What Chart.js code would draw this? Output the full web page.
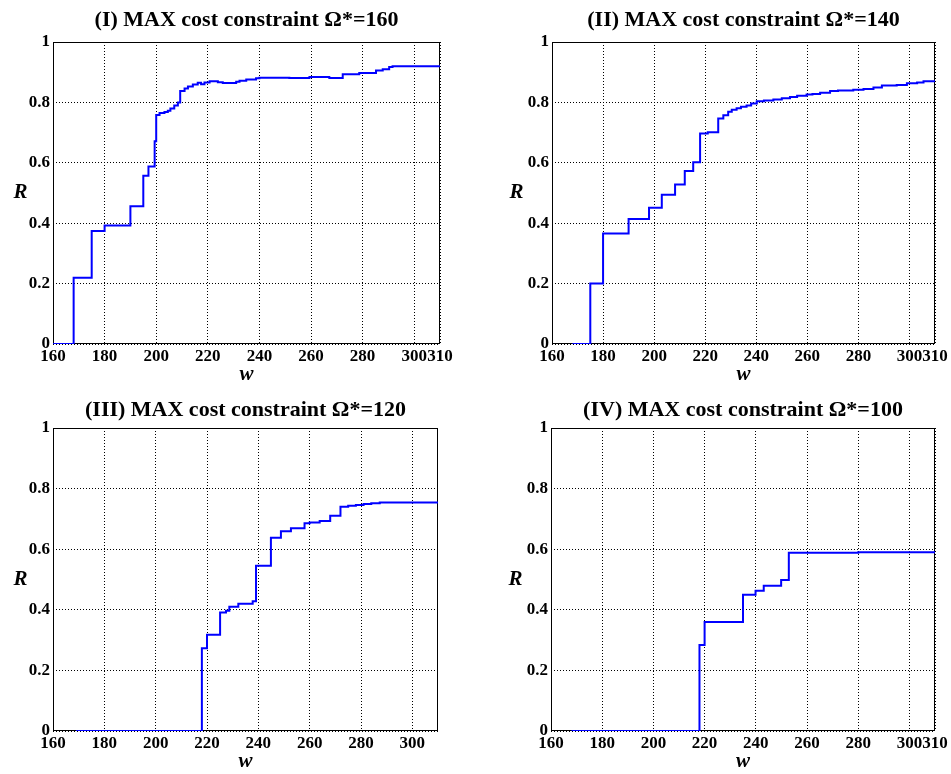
<!DOCTYPE html>
<html><head><meta charset="utf-8">
<script src="https://cdn.jsdelivr.net/npm/chart.js@4"></script>
<style>
html,body{margin:0;padding:0;background:#fff;}
body{width:951px;height:774px;position:relative;overflow:hidden;}
canvas{position:absolute;}
</style></head><body>
<canvas id="c1" width="476" height="390" style="left:0;top:0"></canvas>
<canvas id="c2" width="475" height="390" style="left:476px;top:0"></canvas>
<canvas id="c3" width="476" height="387" style="left:0;top:387px"></canvas>
<canvas id="c4" width="475" height="387" style="left:476px;top:387px"></canvas>
<script>
// ---- data ----
const titles = [
  "(I) MAX cost constraint \u03A9*=160",
  "(II) MAX cost constraint \u03A9*=140",
  "(III) MAX cost constraint \u03A9*=120",
  "(IV) MAX cost constraint \u03A9*=100"
];
const xLabel = "w";
const yLabel = "R";

const wI = [160, 168, 175, 180, 190, 195, 197, 199.4, 200, 201.3, 203.2, 204.5, 205.5, 207, 208.4, 209.3, 211, 212.3, 214.2, 216.1, 217.4, 218.7, 220.7, 223.9, 225.8, 231, 232.3, 234.9, 238.7, 240, 251.6, 259.4, 267.1, 272.3, 278.7, 285.2, 287.8, 290.3, 291.6, 310];
const rI = [0, 0.219, 0.374, 0.392, 0.456, 0.557, 0.588, 0.671, 0.758, 0.765, 0.768, 0.772, 0.78, 0.79, 0.80, 0.838, 0.846, 0.853, 0.859, 0.865, 0.86, 0.866, 0.87, 0.867, 0.864, 0.868, 0.872, 0.876, 0.88, 0.882, 0.881, 0.884, 0.881, 0.893, 0.8975, 0.906, 0.91, 0.917, 0.92, 0.92];

const wII = [168, 175, 180, 190, 198, 203, 208.2, 212, 215.3, 218, 221, 225.1, 227.1, 229, 230.4, 232.3, 234, 236.2, 238, 240.2, 243, 246.7, 250, 253.2, 256, 259.7, 262, 265, 268.9, 272, 278, 282, 285.9, 289.2, 295, 299, 303, 305.5, 310];
const rII = [0, 0.2, 0.366, 0.414, 0.451, 0.494, 0.528, 0.573, 0.602, 0.697, 0.701, 0.747, 0.7575, 0.769, 0.776, 0.781, 0.786, 0.79, 0.796, 0.804, 0.806, 0.81, 0.814, 0.818, 0.822, 0.826, 0.828, 0.832, 0.838, 0.839, 0.842, 0.844, 0.849, 0.856, 0.858, 0.863, 0.866, 0.87, 0.869];

const wIII = [169, 218, 220, 225.1, 227.4, 228.7, 232.2, 237.8, 239.1, 244.9, 248.8, 252.7, 258, 260, 263.9, 268, 272, 275, 278, 281, 284, 287.3, 310];
const rIII = [0, 0.273, 0.318, 0.391, 0.397, 0.41, 0.42, 0.428, 0.545, 0.638, 0.659, 0.669, 0.686, 0.688, 0.693, 0.71, 0.74, 0.743, 0.746, 0.749, 0.752, 0.754, 0.754];

const wIV = [168, 218, 220, 235, 239.9, 243.1, 249.9, 252.9, 280, 310];
const rIV = [0, 0.2835, 0.36, 0.45, 0.4626, 0.479, 0.498, 0.588, 0.59, 0.59];

const xTicksFull = [160, 180, 200, 220, 240, 260, 280, 300, 310];
const xTicksIII = [160, 180, 200, 220, 240, 260, 280, 300];
const yTicks = [0, 0.2, 0.4, 0.6, 0.8, 1];

// ---- drawing ----
const FONT = "'Liberation Serif', 'Times New Roman', serif";

const decorPlugin = {
  id: 'decor',
  beforeDatasetsDraw(chart) {
    const a = chart.chartArea, ctx = chart.ctx;
    ctx.save();
    ctx.strokeStyle = '#000';
    ctx.lineWidth = 1;
    ctx.strokeRect(a.left + 0.5, a.top + 0.5, a.right - a.left - 1, a.bottom - a.top - 1);
    ctx.restore();
  },
  afterDraw(chart, args, opts) {
    const a = chart.chartArea, ctx = chart.ctx;
    ctx.save();
    ctx.fillStyle = '#000';
    ctx.font = 'bold ' + opts.titleSize + 'px ' + FONT;
    ctx.textAlign = 'center';
    ctx.textBaseline = 'alphabetic';
    ctx.fillText(opts.title, (a.left + a.right) / 2, a.top - opts.titleGap);
    ctx.font = 'italic bold 21px ' + FONT;
    ctx.textBaseline = 'middle';
    ctx.fillText(yLabel, a.left - opts.rOffset, (a.top + a.bottom) / 2);
    ctx.restore();
  }
};

function makeChart(id, title, w, r, xTicks, g) {
  const pts = w.map((x, i) => ({x: x, y: r[i]}));
  return new Chart(document.getElementById(id), {
    type: 'line',
    data: { datasets: [{ data: pts, borderColor: '#0000ff', borderWidth: 2, pointRadius: 0, stepped: 'before', fill: false }] },
    options: {
      responsive: false, animation: false, devicePixelRatio: 1,
      layout: { padding: { top: g.padTop, right: g.padRight, bottom: 0, left: 0 } },
      plugins: {
        legend: { display: false }, tooltip: { enabled: false },
        decor: { title: title, titleGap: g.titleGap, titleSize: 22, rOffset: g.rOffset }
      },
      scales: {
        x: {
          type: 'linear', min: 160, max: 310,
          afterBuildTicks: s => { s.ticks = xTicks.map(v => ({value: v})); },
          afterFit: s => { s.height = g.xHeight; },
          ticks: { autoSkip: false, maxRotation: 0, padding: 2, color: '#000', font: { family: FONT, size: 17, weight: 'bold' }, callback: v => String(v) },
          grid: { color: '#000', lineWidth: 1, drawTicks: false },
          border: { display: false, dash: [1, 2] },
          title: { display: true, text: xLabel, color: '#000', padding: { top: 0, bottom: g.wPad }, font: { family: FONT, size: 21, weight: 'bold', style: 'italic', lineHeight: 1.2 } }
        },
        y: {
          type: 'linear', min: 0, max: 1,
          afterBuildTicks: s => { s.ticks = yTicks.map(v => ({value: v})); },
          afterFit: s => { s.width = g.yWidth; },
          ticks: { padding: 3, color: '#000', font: { family: FONT, size: 17, weight: 'bold' }, callback: v => String(Number(v.toFixed(1))) },
          grid: { color: '#000', lineWidth: 1, drawTicks: false },
          border: { display: false, dash: [1, 2] }
        }
      }
    },
    plugins: [decorPlugin]
  });
}

makeChart('c1', titles[0], wI, rI, xTicksFull, { padTop: 42, padRight: 36, xHeight: 46, yWidth: 53, wPad: 2.4, titleGap: 16, rOffset: 32.5 });
makeChart('c2', titles[1], wII, rII, xTicksFull, { padTop: 42, padRight: 16, xHeight: 46, yWidth: 76, wPad: 2.4, titleGap: 16, rOffset: 35.5 });
makeChart('c3', titles[2], wIII, rIII, xTicksIII, { padTop: 41, padRight: 38, xHeight: 43, yWidth: 53, wPad: 0, titleGap: 12, rOffset: 32.5 });
makeChart('c4', titles[3], wIV, rIV, xTicksFull, { padTop: 41, padRight: 16, xHeight: 43, yWidth: 75, wPad: 0, titleGap: 12, rOffset: 35.5 });
</script>
</body></html>
